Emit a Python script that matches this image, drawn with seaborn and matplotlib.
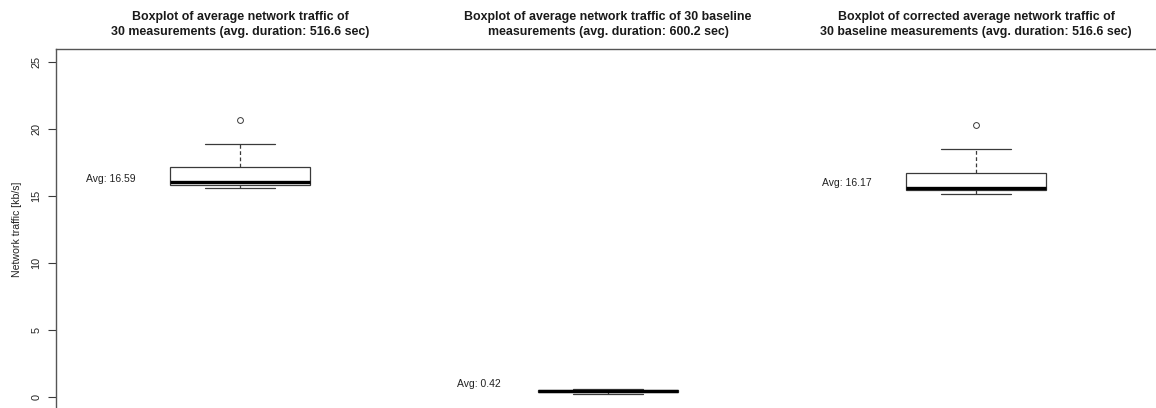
import matplotlib
matplotlib.use("Agg")
import matplotlib.pyplot as plt
import seaborn as sns
import pandas as pd

# ---- data ----
groups = ["measurements", "baseline", "corrected"]
measurements = [15.59, 15.75, 15.87, 15.95, 16.04, 16.6, 17.19, 18.94, 20.73]
baseline = [0.25, 0.30, 0.35, 0.40, 0.45, 0.48, 0.52, 0.56, 0.60]
corrected = [15.19, 15.35, 15.44, 15.52, 15.59, 16.1, 16.77, 18.56, 20.31]
averages = [16.59, 0.42, 16.17]
avg_label_y = [16.3, 0.97, 16.0]
titles = [
    "Boxplot of average network traffic of\n30 measurements (avg. duration: 516.6 sec)",
    "Boxplot of average network traffic of 30 baseline\nmeasurements (avg. duration: 600.2 sec)",
    "Boxplot of corrected average network traffic of\n30 baseline measurements (avg. duration: 516.6 sec)",
]
yticks = [0, 5, 10, 15, 20, 25]

df = pd.DataFrame({
    "group": [groups[0]] * len(measurements) + [groups[1]] * len(baseline) + [groups[2]] * len(corrected),
    "value": measurements + baseline + corrected,
})

sns.set_style("white")
plt.rcParams["font.family"] = ["Liberation Sans", "DejaVu Sans"]

fig = plt.figure(figsize=(11.56, 4.08), dpi=100)
ax = fig.add_axes([56 / 1156, -0.0059, 1104 / 1156, 0.8858])

edge = "#3a3a3a"
sns.boxplot(
    data=df, x="group", y="value", order=groups, ax=ax,
    width=0.38, whis=1.5, color="white", linecolor=edge, linewidth=0.9,
    boxprops=dict(facecolor="white", edgecolor=edge, linewidth=0.9),
    whiskerprops=dict(color=edge, linestyle=(0, (3, 2)), linewidth=0.9),
    capprops=dict(color=edge, linestyle="-", linewidth=0.9),
    medianprops=dict(color="black", linewidth=2.4),
    flierprops=dict(marker="o", markerfacecolor="none", markeredgecolor=edge,
                    markersize=4.2, markeredgewidth=0.7),
)

ax.set_xlim(-0.5, 2.5)
ax.set_ylim(-1, 26)
ax.set_yticks(yticks)
ax.set_yticklabels([str(t) for t in yticks], rotation=90, va="center", fontsize=7.8, color="#222222")
ax.tick_params(axis="y", which="both", left=True, length=5.5, width=0.8, color=edge, pad=5)
ax.set_xticks([])
ax.set_xlabel("")
ax.set_ylabel("Network traffic [kb/s]", fontsize=7.6, color="#222222", labelpad=7)

for side in ["right", "bottom"]:
    ax.spines[side].set_visible(False)
for side in ["top", "left"]:
    ax.spines[side].set_color("#555555")
    ax.spines[side].set_linewidth(1.0)

for i, (avg, ly) in enumerate(zip(averages, avg_label_y)):
    ax.text(i - 0.35, ly, f"Avg: {avg:.2f}", ha="center", va="center", fontsize=7.5, color="#222222")

for i, t in enumerate(titles):
    x_fig = (56 + (i + 0.5) * 368) / 1156
    fig.text(x_fig, 1 - 24.5 / 408, t, ha="center", va="center", fontsize=8.9, fontweight="bold",
             color="#1a1a1a", linespacing=1.25)

fig.savefig("out.png", dpi=100)
